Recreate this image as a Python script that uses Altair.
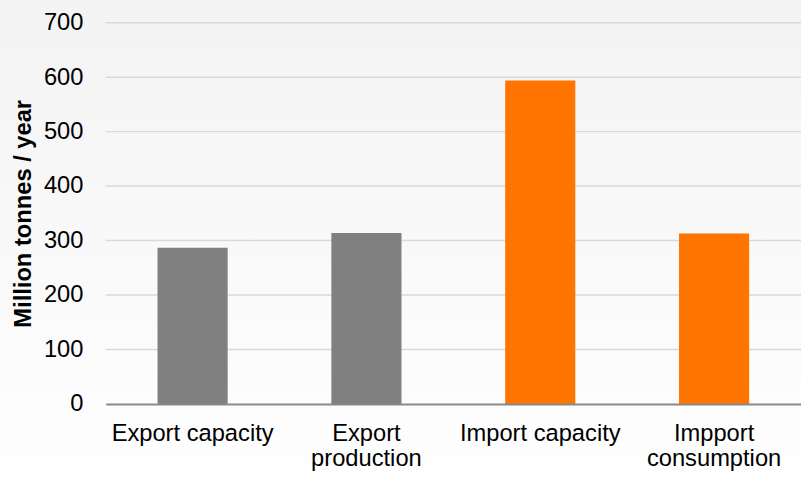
import altair as alt
import pandas as pd

categories = ["Export capacity", "Export\nproduction", "Import capacity", "Impport\nconsumption"]
values = [287, 314, 594, 313]
colors = ["#808080", "#808080", "#ff7500", "#ff7500"]
ticks = [0, 100, 200, 300, 400, 500, 600, 700]

df = pd.DataFrame({"cat": categories, "val": values, "col": colors})
gdf = pd.DataFrame({"t": ticks[1:]})

W, H = 704, 386
FONT = "Liberation Sans"
yscale = alt.Scale(domain=[0, 700])
yaxis = alt.Axis(values=ticks, title="Million tonnes / year",
                 labelFont=FONT, labelFontSize=24, labelColor="#000000",
                 labelPadding=23, ticks=False, domain=False,
                 grid=False, zindex=1,
                 titleFont=FONT, titleFontSize=24, titleFontWeight="bold",
                 titleColor="#000000", titlePadding=8)

bg = alt.Chart(pd.DataFrame({"a": [0]})).mark_rect().encode(
    x=alt.value(-115), x2=alt.value(W + 20),
    y=alt.value(-25), y2=alt.value(H + 100),
    color=alt.value({"gradient": "linear", "x1": 0, "y1": 0, "x2": 0, "y2": 1,
                     "stops": [{"offset": 0, "color": "#f3f3f3"},
                               {"offset": 1, "color": "#ffffff"}]}),
)

grid = alt.Chart(gdf).mark_rule(color="#d9d9d9", strokeWidth=1.5).encode(
    y=alt.Y("t:Q", scale=yscale, axis=yaxis, title="Million tonnes / year"),
    x=alt.value(0), x2=alt.value(W + 20),
)

bars = alt.Chart(df).mark_bar(size=71).encode(
    x=alt.X("cat:N", sort=categories, title=None,
            scale=alt.Scale(paddingInner=0.0, paddingOuter=0.0),
            axis=alt.Axis(labelAngle=0, labelExpr="split(datum.label, '\\n')",
                          labelFont=FONT, labelFontSize=24, labelColor="#000000",
                          labelLineHeight=25, labelPadding=18, labelBaseline="top",
                          ticks=False, domain=True, domainColor="#898989", domainWidth=2,
                          grid=False, zindex=1)),
    y=alt.Y("val:Q", title="Million tonnes / year", scale=yscale, axis=yaxis),
    color=alt.Color("col:N", scale=None, legend=None),
)

chart = alt.layer(bg, grid, bars).properties(
    width=W, height=H,
    autosize=alt.AutoSizeParams(type="none"),
    padding={"left": 107, "top": 20, "right": 0, "bottom": 72},
).configure_view(stroke=None).configure(background="#ffffff")

chart.save("out.html", embed_options={"renderer": "svg", "actions": False})
